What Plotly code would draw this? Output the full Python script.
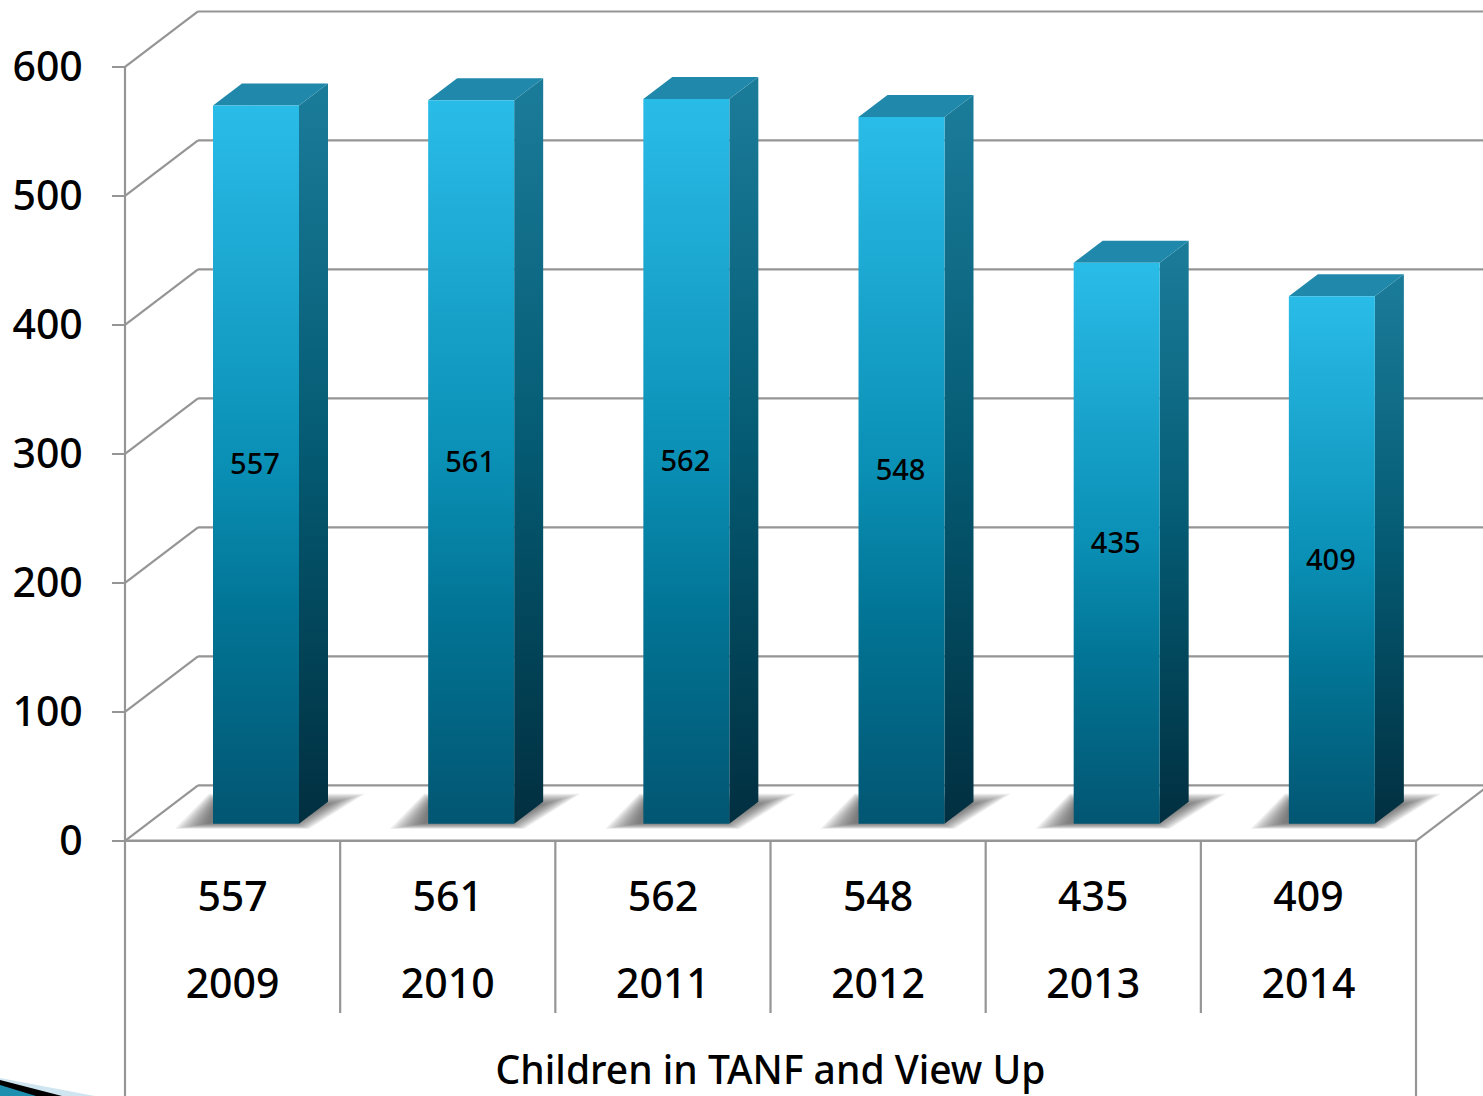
import plotly.graph_objects as go

years = ["2009", "2010", "2011", "2012", "2013", "2014"]
children = [557, 561, 562, 548, 435, 409]
y_ticks = [0, 100, 200, 300, 400, 500, 600]
series_name = "Children in TANF and View Up"

W, H = 1483, 1096
X0, Y0 = 125, 840.8      # page pixel of the chart origin
CELL = 215.17            # pixels per category
UNIT = 1.2897            # pixels per value unit
FONT = "Noto Sans"
GREY = "#959595"


def xp(p):
    return (p - X0) / CELL


def yp(p):
    return (Y0 - p) / UNIT


# depth of the box and of each bar, in axis units
BOX_DX, BOX_DY = 73 / CELL, 55.5 / UNIT
BAR_DX, BAR_DY = 29 / CELL, 22 / UNIT
BAR_LEFT, BAR_W = 88 / CELL, 86 / CELL
BAR_BASE = 17 / UNIT

fig = go.Figure()


def poly(xs, ys, color=None, gradient=None):
    fig.add_trace(go.Scatter(
        x=xs + xs[:1], y=ys + ys[:1], mode="lines", fill="toself",
        line=dict(width=0), fillcolor=color, fillgradient=gradient,
        hoverinfo="skip", showlegend=False,
    ))


def line(x0, y0, x1, y1, width=2.2):
    fig.add_shape(type="line", x0=x0, y0=y0, x1=x1, y1=y1, layer="below",
                  line=dict(color=GREY, width=width))


# back wall, side wall
for t in y_ticks:
    line(0, t, BOX_DX, t + BOX_DY)
    line(BOX_DX, t + BOX_DY, xp(W + 5), t + BOX_DY)
line(0, 0, 0, 600)

# floor front edge and right edge
line(0, 0, 6, 0, 2.5)
line(6, 0, 6 + BOX_DX, BOX_DY)

# table under the chart
for i in range(7):
    line(i, 0, i, yp(1013))
line(0, yp(1013), 0, yp(H + 5))
line(6, yp(1013), 6, yp(H + 5))

# bars
for i, v in enumerate(children):
    left = i + BAR_LEFT
    right = left + BAR_W
    # soft shadow on the floor, stacked layers to fake the blur
    for k in range(12):
        poly([left - (38 - 3 * k) / CELL, left - (4 - k / 2) / CELL,
              right + (66 - 3.5 * k) / CELL, right + (10 - 1.5 * k) / CELL],
             [BAR_BASE - (5 - k / 2) / UNIT, BAR_BASE + (30 - k) / UNIT,
              BAR_BASE + (30 - k) / UNIT, BAR_BASE - (5 - k / 2) / UNIT],
             color="rgba(70,70,70,0.09)")
    # side
    poly([right, right + BAR_DX, right + BAR_DX, right],
         [BAR_BASE, BAR_BASE + BAR_DY, BAR_BASE + v + BAR_DY, BAR_BASE + v],
         gradient=dict(type="vertical", colorscale=[[0, "#012f40"], [0.5, "#045a72"], [1, "#1b7c9a"]]))
    # top
    poly([left, right, right + BAR_DX, left + BAR_DX],
         [BAR_BASE + v, BAR_BASE + v, BAR_BASE + v + BAR_DY, BAR_BASE + v + BAR_DY],
         color="#2088aa")
    # front
    poly([left, right, right, left],
         [BAR_BASE, BAR_BASE, BAR_BASE + v, BAR_BASE + v],
         gradient=dict(type="vertical", colorscale=[
             [0, "#025672"], [0.3, "#027596"], [0.5, "#0a8fb5"], [1, "#2abce8"]]))

# value labels inside the bars
fig.add_trace(go.Scatter(
    x=[i + BAR_LEFT + BAR_W / 2 - 1 / CELL for i in range(len(children))],
    y=[BAR_BASE + v / 2 - 2.5 / UNIT for v in children],
    text=[str(v) for v in children], mode="text",
    textfont=dict(family=FONT, size=29, color="black", weight=500),
    hoverinfo="skip", showlegend=False,
))

# table rows
centers = [i + 0.5 for i in range(len(years))]
fig.add_trace(go.Scatter(
    x=centers, y=[yp(901)] * len(centers), text=[str(v) for v in children], mode="text",
    textfont=dict(family=FONT, size=41, color="black", weight=500), hoverinfo="skip", showlegend=False,
))
fig.add_trace(go.Scatter(
    x=centers, y=[yp(988)] * len(centers), text=years, mode="text",
    textfont=dict(family=FONT, size=41, color="black", weight=500), hoverinfo="skip", showlegend=False,
))
fig.add_trace(go.Scatter(
    x=[3], y=[yp(1074)], text=[series_name], mode="text",
    textfont=dict(family=FONT, size=39, color="black", weight=500), hoverinfo="skip", showlegend=False,
))

# slide decoration in the bottom left corner
poly([xp(0), xp(95), xp(0)], [yp(1078), yp(H), yp(H)], color="#cfe6f0")
poly([xp(0), xp(62), xp(0)], [yp(1080), yp(H), yp(H)], color="#000000")
poly([xp(0), xp(36), xp(0)], [yp(1085), yp(H), yp(H)], color="#1f8fb0")

fig.update_layout(
    width=W, height=H,
    margin=dict(l=0, r=0, t=0, b=0),
    paper_bgcolor="white", plot_bgcolor="white",
    showlegend=False,
    xaxis=dict(range=[xp(0), xp(W)], visible=False, fixedrange=True),
    yaxis=dict(
        range=[yp(H), yp(0)], anchor="free", position=X0 / W,
        tickmode="array", tickvals=y_ticks, ticktext=[str(t) for t in y_ticks],
        ticks="outside", ticklen=13, tickcolor=GREY, tickwidth=2,
        ticklabelstandoff=21,
        tickfont=dict(family=FONT, size=41, color="black", weight=500),
        showgrid=False, zeroline=False, showline=False, fixedrange=True,
    ),
)

fig.write_html("out.html", config=dict(displayModeBar=False),
               post_script="document.body.style.margin='0';")
